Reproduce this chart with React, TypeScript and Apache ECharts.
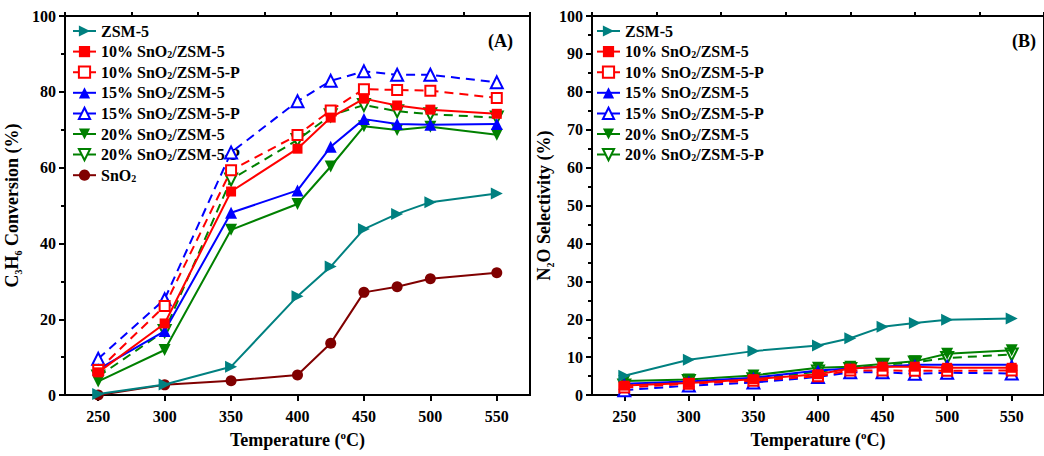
import React, { useEffect, useRef } from "react";
import * as echarts from "echarts";

const temps = [250, 300, 350, 400, 425, 450, 475, 500, 550];
const xLabels = [250, 300, 350, 400, 450, 500, 550];
const xMinor = [225, 275, 325, 375, 425, 475, 525, 575];

const names = [
  "ZSM-5",
  "10% SnO2/ZSM-5",
  "10% SnO2/ZSM-5-P",
  "15% SnO2/ZSM-5",
  "15% SnO2/ZSM-5-P",
  "20% SnO2/ZSM-5",
  "20% SnO2/ZSM-5-P",
  "SnO2",
];

// Panel A: C3H6 conversion (%)
const convZSM = [0.3, 2.8, 7.5, 26.1, 33.9, 43.8, 47.8, 50.9, 53.2];
const conv10 = [6.0, 18.9, 53.7, 65.0, 73.2, 78.2, 76.4, 75.3, 74.2];
const conv10P = [6.6, 23.5, 59.3, 68.6, 75.1, 80.7, 80.5, 80.3, 78.4];
const conv15 = [6.8, 16.9, 48.1, 54.0, 65.5, 72.8, 71.5, 71.3, 71.5];
const conv15P = [9.6, 25.3, 64.0, 77.5, 82.9, 85.4, 84.5, 84.5, 82.5];
const conv20 = [3.6, 11.9, 43.6, 50.4, 60.3, 70.9, 69.9, 70.8, 68.7];
const conv20P = [4.9, 16.9, 56.9, 67.3, 73.8, 76.5, 74.9, 74.1, 73.2];
const convSnO2 = [0.0, 2.7, 3.8, 5.3, 13.7, 27.1, 28.6, 30.7, 32.3];

// Panel B: N2O selectivity (%)
const selZSM = [5.1, 9.3, 11.6, 13.1, 15.0, 18.0, 19.0, 19.9, 20.2];
const sel10 = [2.5, 3.2, 4.2, 5.5, 7.0, 7.5, 7.5, 7.2, 7.2];
const sel10P = [2.0, 3.0, 3.8, 5.0, 6.5, 6.5, 6.4, 6.4, 6.5];
const sel15 = [3.0, 3.6, 4.6, 6.5, 7.0, 7.5, 8.0, 8.0, 8.0];
const sel15P = [1.3, 2.5, 3.3, 4.8, 6.0, 6.0, 5.6, 5.9, 5.7];
const sel20 = [3.7, 4.1, 5.2, 7.2, 7.5, 8.2, 8.9, 10.9, 11.8];
const sel20P = [2.5, 3.7, 4.2, 6.2, 6.9, 8.0, 8.6, 9.8, 10.7];

const FONT = "'Liberation Serif', 'Times New Roman', serif";

type Sty = {
  color: string;
  symbol: string;
  rotate: number;
  size: number;
  dashed: boolean;
};

const styles: Sty[] = [
  { color: "#008080", symbol: "triangle", rotate: -90, size: 12, dashed: false },
  { color: "#FF0000", symbol: "rect", rotate: 0, size: 10, dashed: false },
  { color: "#FF0000", symbol: "emptyRect", rotate: 0, size: 10, dashed: true },
  { color: "#0000FF", symbol: "triangle", rotate: 0, size: 12, dashed: false },
  { color: "#0000FF", symbol: "emptyTriangle", rotate: 0, size: 12, dashed: true },
  { color: "#008000", symbol: "triangle", rotate: 180, size: 12, dashed: false },
  { color: "#008000", symbol: "emptyTriangle", rotate: 180, size: 12, dashed: true },
  { color: "#800000", symbol: "circle", rotate: 0, size: 11, dashed: false },
];

const panelA = [convZSM, conv10, conv10P, conv15, conv15P, conv20, conv20P, convSnO2];
const panelB = [selZSM, sel10, sel10P, sel15, sel15P, sel20, sel20P];

function fmtName(n: string) {
  return n.replace("SnO2", "SnO{sub|2}");
}

const subRich = {
  sub: {
    fontSize: 10,
    fontWeight: "bold",
    fontFamily: FONT,
    color: "#000",
    lineHeight: 8,
    verticalAlign: "bottom",
  },
  sup: {
    fontSize: 11,
    fontWeight: "bold",
    fontFamily: FONT,
    color: "#000",
    lineHeight: 10,
    verticalAlign: "top",
  },
};

function makeSeries(vals: number[], i: number, gridIdx: number) {
  const s = styles[i];
  return {
    name: names[i],
    type: "line",
    xAxisIndex: gridIdx * 2,
    yAxisIndex: gridIdx,
    data: temps.map((t, k) => [t, vals[k]]),
    symbol: s.symbol,
    symbolSize: s.size,
    symbolRotate: s.rotate,
    showAllSymbol: true,
    lineStyle: {
      color: s.color,
      width: 2,
      type: s.dashed ? [9, 6] : "solid",
    },
    itemStyle: { color: s.color, borderColor: s.color, borderWidth: s.symbol.startsWith("empty") ? 1.3 : 0 },
    z: 10 - i,
  };
}

function xAxes(gridIndex: number) {
  return [
    {
      type: "value",
      gridIndex,
      min: 225,
      max: 575,
      axisLine: { show: true, lineStyle: { color: "#000", width: 2 } },
      axisTick: {
        show: true,
        inside: false,
        length: 6,
        customValues: xLabels,
        lineStyle: { color: "#000", width: 2 },
      },
      axisLabel: {
        customValues: xLabels,
        color: "#000",
        fontFamily: FONT,
        fontWeight: "bold",
        fontSize: 16,
        margin: 13,
      },
      splitLine: { show: false },
      name: "Temperature ({sup|o}C)",
      nameLocation: "middle",
      nameGap: 33,
      nameTextStyle: {
        color: "#000",
        fontFamily: FONT,
        fontWeight: "bold",
        fontSize: 18,
        lineHeight: 22,
        rich: subRich,
      },
    },
    {
      type: "value",
      gridIndex,
      min: 225,
      max: 575,
      axisLine: { show: false },
      axisTick: {
        show: true,
        inside: false,
        length: 4,
        customValues: xMinor,
        lineStyle: { color: "#000", width: 2 },
      },
      axisLabel: { show: false },
      splitLine: { show: false },
    },
  ];
}

function yAxis(gridIndex: number, interval: number, name: string, gap: number) {
  return {
    type: "value",
    gridIndex,
    min: 0,
    max: 100,
    interval,
    axisLine: { show: true, lineStyle: { color: "#000", width: 2 } },
    axisTick: { show: true, inside: false, length: 6, lineStyle: { color: "#000", width: 2 } },
    minorTick: { show: true, splitNumber: 2, length: 4, lineStyle: { color: "#000", width: 2 } },
    axisLabel: {
      color: "#000",
      fontFamily: FONT,
      fontWeight: "bold",
      fontSize: 16,
      margin: 9,
    },
    splitLine: { show: false },
    minorSplitLine: { show: false },
    name,
    nameLocation: "middle",
    nameGap: gap,
    nameTextStyle: {
      color: "#000",
      fontFamily: FONT,
      fontWeight: "bold",
      fontSize: 18,
      lineHeight: 22,
      rich: subRich,
    },
  };
}

function legend(left: number, data: string[]) {
  return {
    orient: "vertical",
    left,
    top: 18,
    itemWidth: 23,
    itemHeight: 14,
    itemGap: 4.6,
    data,
    formatter: (n: string) => fmtName(n),
    textStyle: {
      color: "#000",
      fontFamily: FONT,
      fontWeight: "bold",
      fontSize: 16,
      lineHeight: 16,
      rich: subRich,
    },
  };
}

export default function App() {
  const ref = useRef<HTMLDivElement>(null);
  useEffect(() => {
    if (!ref.current) return;
    const chart = echarts.init(ref.current, undefined, { renderer: "svg" });
    const series: any[] = [];
    panelA.forEach((v, i) => series.push(makeSeries(v, i, 0)));
    panelB.forEach((v, i) => series.push(makeSeries(v, i, 1)));
    chart.setOption({
      animation: false,
      backgroundColor: "#fff",
      grid: [
        { left: 65, top: 16, width: 465, height: 388, show: true, borderColor: "#000", borderWidth: 2, backgroundColor: "transparent" },
        { left: 592, top: 16, width: 463, height: 388, show: true, borderColor: "#000", borderWidth: 2, backgroundColor: "transparent" },
      ],
      xAxis: [...xAxes(0), ...xAxes(1)],
      yAxis: [
        yAxis(0, 20, "C{sub|3}H{sub|6} Conversion (%)", 42),
        yAxis(1, 10, "N{sub|2}O Selectivity (%)", 36),
      ],
      legend: [legend(67, names), legend(591, names.slice(0, 7))],
      graphic: [
        {
          type: "text",
          left: 488,
          top: 32,
          style: { text: "(A)", fontFamily: FONT, fontWeight: "bold", fontSize: 18, fill: "#000" },
        },
        {
          type: "text",
          left: 1012,
          top: 32,
          style: { text: "(B)", fontFamily: FONT, fontWeight: "bold", fontSize: 18, fill: "#000" },
        },
      ],
      series,
    });
    return () => chart.dispose();
  }, []);
  return (
    <div
      ref={ref}
      style={{ position: "absolute", left: 0, top: 0, width: 1044, height: 456 }}
    />
  );
}
